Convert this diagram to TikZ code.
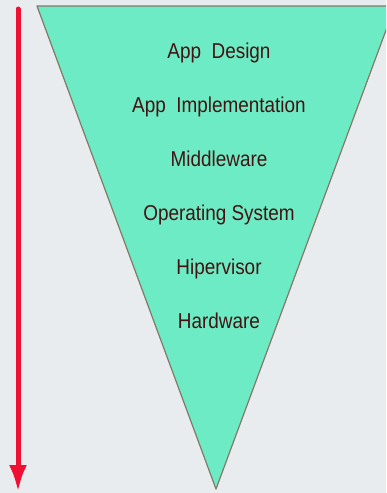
\documentclass[tikz,border=0pt]{standalone}
\usepackage{fontspec}
\setmainfont{Liberation Sans}
\usetikzlibrary{arrows.meta}

\definecolor{bgGray}{HTML}{E9ECEF}
\definecolor{funnelFill}{HTML}{6DEBC4}
\definecolor{funnelEdge}{HTML}{857868}
\definecolor{layerText}{HTML}{441212}
\definecolor{flowRed}{HTML}{EE1133}

\tikzset{
    layer/.style={text=layerText, font=\fontsize{21.5}{23}\selectfont,
                  inner sep=0pt, anchor=base, xscale=0.88}
}

\begin{document}
\begin{tikzpicture}[x=1pt, y=-1pt]

            % page and background
            \fill[bgGray] (0,0) rectangle (386,493);
            \useasboundingbox (0,0) rectangle (386,493);

            % inverted triangle
            \begin{scope}
                \clip (0,0) rectangle (386,493);
                \draw[funnelEdge, fill=funnelFill, line width=1.2pt, line join=round]
                    (37,6) -- (395,6) -- (216,489) -- cycle;
            \end{scope}

            % layers, top to bottom (base line positions)
            \node[layer] (design) at (219,58) {App~~Design};
            \node[layer] (impl)   at (219,112) {App~~Implementation};
            \node[layer] (mid)    at (219,166) {Middleware};
            \node[layer] (os)     at (219,220) {Operating System};
            \node[layer] (hyp)    at (219,274) {Hipervisor};
            \node[layer] (hw)     at (219,328) {Hardware};

            % downward arrow
            \coordinate (arrTop) at (18,9);
            \coordinate (arrEnd) at (18,492);
            \draw[flowRed, line width=5pt, line cap=round,
                  -{Latex[length=27pt, width=18pt]}] (arrTop) -- (arrEnd);

        \end{tikzpicture}
\end{document}
